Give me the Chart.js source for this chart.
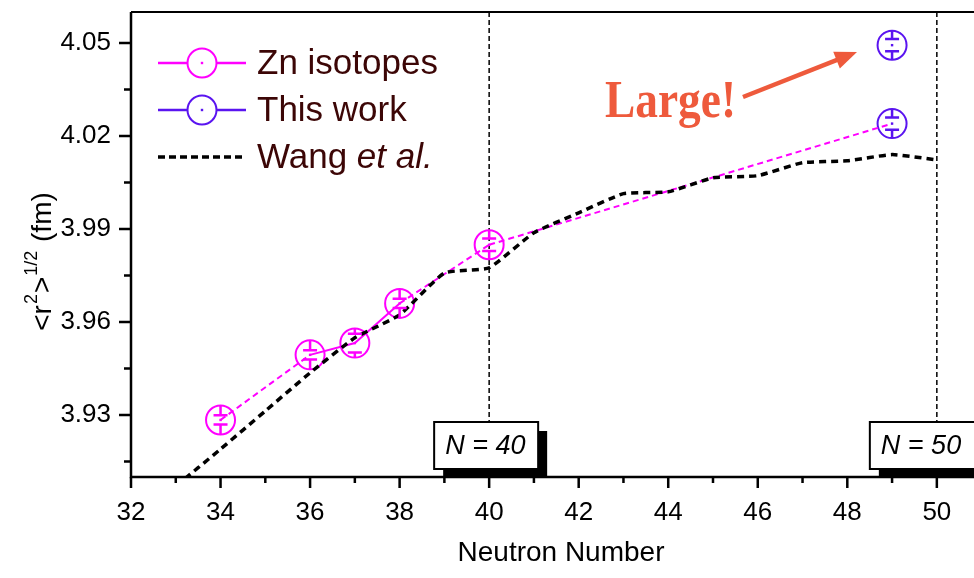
<!DOCTYPE html>
<html lang="en">
<head>
<meta charset="UTF-8">
<title>Zn charge radii</title>
<style>
  body { margin: 0; background: #fff; }
  .zone { width: 974px; height: 578px; position: relative; }
</style>
</head>
<body>
<div class="zone"><canvas id="myChart"></canvas></div>

<script src="https://cdn.jsdelivr.net/npm/chart.js"></script>
<script>
// data
const znNeutrons = [34, 36, 37, 38, 40];
const znRadius = [3.9284, 3.9494, 3.9532, 3.9660, 3.9849];
const znError = [0.0015, 0.0015, 0.003, 0.0015, 0.002];

const workNeutrons = [49, 49];
const workRadius = [4.0493, 4.0240];
const workError = [0.002, 0.002];

const wangNeutrons = [33, 34, 35, 36, 37, 38, 39, 40, 41, 42, 43, 44, 45, 46, 47, 48, 49, 50];
const wangRadius = [3.907, 3.919, 3.9313, 3.9436, 3.9549, 3.9623, 3.9758, 3.9775, 3.9888, 3.9952,
                    4.0014, 4.0020, 4.0065, 4.0072, 4.0114, 4.0120, 4.0140, 4.0123];

const xTicks = [32, 34, 36, 38, 40, 42, 44, 46, 48, 50];
const xMinorTicks = [33, 35, 37, 39, 41, 43, 45, 47, 49];
const yTicks = [3.93, 3.96, 3.99, 4.02, 4.05];
const yMinorTicks = [3.915, 3.945, 3.975, 4.005, 4.035];
const magicNumbers = [40, 50];

const MAGENTA = '#ff00ff';
const VIOLET = '#5a14f0';
const TEXT = '#3c0606';
const FONT = '"Liberation Sans", Arial, sans-serif';

const pts = (xs, ys) => xs.map((v, i) => ({ x: v, y: ys[i] }));

function drawMarker(ctx, x, y, r, color) {
    ctx.save();
    ctx.strokeStyle = color;
    ctx.lineWidth = 2;
    ctx.setLineDash([]);
    ctx.beginPath();
    ctx.arc(x, y, r, 0, Math.PI * 2);
    ctx.stroke();
    ctx.fillStyle = color;
    ctx.fillRect(x - 1.2, y - 1.2, 2.4, 2.4);
    ctx.restore();
}

const decorations = {
    id: 'decorations',
    beforeDatasetsDraw(chart) {
        const { ctx, chartArea: a, scales: { x } } = chart;
        ctx.save();
        ctx.strokeStyle = '#000';
        ctx.lineWidth = 1.5;
        ctx.setLineDash([5, 3]);
        magicNumbers.forEach(n => {
            const px = x.getPixelForValue(n);
            ctx.beginPath();
            ctx.moveTo(px, a.top);
            ctx.lineTo(px, 422);
            ctx.stroke();
        });
        ctx.restore();
    },
    afterDatasetsDraw(chart) {
        const { ctx, scales: { y } } = chart;
        chart.data.datasets.forEach((ds, i) => {
            if (!ds.errors) return;
            const meta = chart.getDatasetMeta(i);
            meta.data.forEach((pt, j) => {
                const r = ds.pointRadius;
                const up = y.getPixelForValue(ds.data[j].y + ds.errors[j]);
                const lo = y.getPixelForValue(ds.data[j].y - ds.errors[j]);
                ctx.save();
                ctx.strokeStyle = ds.borderColor;
                ctx.lineWidth = 2.5;
                ctx.beginPath();
                ctx.moveTo(pt.x, pt.y - r); ctx.lineTo(pt.x, up);
                ctx.moveTo(pt.x - 7, up); ctx.lineTo(pt.x + 7, up);
                ctx.moveTo(pt.x - 7, lo); ctx.lineTo(pt.x + 7, lo);
                ctx.moveTo(pt.x, lo); ctx.lineTo(pt.x, pt.y + r);
                ctx.stroke();
                ctx.fillStyle = ds.borderColor;
                ctx.fillRect(pt.x - 1.2, pt.y - 1.2, 2.4, 2.4);
                ctx.restore();
            });
        });
    },
    afterDraw(chart) {
        const { ctx, chartArea: a, scales: { x, y } } = chart;
        ctx.save();

        // axes and frame
        ctx.strokeStyle = '#000';
        ctx.lineWidth = 2.5;
        ctx.beginPath();
        ctx.moveTo(a.left, a.top);
        ctx.lineTo(a.left, a.bottom);
        ctx.lineTo(chart.width, a.bottom);
        ctx.stroke();
        ctx.lineWidth = 2;
        ctx.beginPath();
        ctx.moveTo(a.left, a.top);
        ctx.lineTo(chart.width, a.top);
        ctx.stroke();

        // ticks
        ctx.lineWidth = 2.5;
        ctx.beginPath();
        xTicks.forEach(v => { const p = x.getPixelForValue(v); ctx.moveTo(p, a.bottom); ctx.lineTo(p, a.bottom + 11); });
        xMinorTicks.forEach(v => { const p = x.getPixelForValue(v); ctx.moveTo(p, a.bottom); ctx.lineTo(p, a.bottom + 6); });
        yTicks.forEach(v => { const p = y.getPixelForValue(v); ctx.moveTo(a.left, p); ctx.lineTo(a.left - 12, p); });
        yMinorTicks.forEach(v => { const p = y.getPixelForValue(v); ctx.moveTo(a.left, p); ctx.lineTo(a.left - 7, p); });
        ctx.stroke();

        // axis titles
        ctx.fillStyle = '#000';
        ctx.textBaseline = 'middle';
        ctx.textAlign = 'center';
        ctx.font = '28px ' + FONT;
        ctx.fillText('Neutron Number', 561, 553);

        const parts = [
            { t: '<r', f: '28px', dy: 0 },
            { t: '2', f: '18px', dy: -11 },
            { t: '>', f: '28px', dy: 0 },
            { t: '1/2', f: '18px', dy: -11 },
            { t: ' (fm)', f: '28px', dy: 0 }
        ];
        ctx.save();
        ctx.translate(43, 261);
        ctx.rotate(-Math.PI / 2);
        ctx.textAlign = 'left';
        let total = 0;
        parts.forEach(p => { ctx.font = p.f + ' ' + FONT; p.w = ctx.measureText(p.t).width; total += p.w + 1; });
        let cx = -total / 2;
        parts.forEach(p => { ctx.font = p.f + ' ' + FONT; ctx.fillText(p.t, cx, p.dy); cx += p.w + 1; });
        ctx.restore();

        // legend
        const rows = [
            { y: 63, color: MAGENTA, marker: true, label: [['Zn isotopes', 'normal']] },
            { y: 110, color: VIOLET, marker: true, label: [['This work', 'normal']] },
            { y: 157, color: '#000', marker: false, label: [['Wang ', 'normal'], ['et al.', 'italic']] }
        ];
        rows.forEach(r => {
            ctx.save();
            ctx.strokeStyle = r.color;
            if (r.marker) {
                ctx.lineWidth = 2.5;
                ctx.beginPath();
                ctx.moveTo(158, r.y); ctx.lineTo(188, r.y);
                ctx.moveTo(216, r.y); ctx.lineTo(246, r.y);
                ctx.stroke();
                drawMarker(ctx, 202, r.y, 14.5, r.color);
            } else {
                ctx.lineWidth = 3.5;
                ctx.setLineDash([7, 4]);
                ctx.beginPath();
                ctx.moveTo(158, r.y); ctx.lineTo(246, r.y);
                ctx.stroke();
            }
            ctx.restore();
            let tx = 257;
            ctx.fillStyle = TEXT;
            ctx.textAlign = 'left';
            ctx.textBaseline = 'middle';
            r.label.forEach(([t, style]) => {
                ctx.font = style + ' 35px ' + FONT;
                ctx.fillText(t, tx, r.y + 1);
                tx += ctx.measureText(t).width;
            });
        });

        // N = 40 / N = 50 boxes
        const boxes = [
            { left: x.getPixelForValue(40) - 55, w: 104, text: 'N = 40' },
            { left: x.getPixelForValue(50) - 67, w: 112, text: 'N = 50' }
        ];
        boxes.forEach(b => {
            const top = 422, h = 47;
            ctx.fillStyle = '#000';
            ctx.fillRect(b.left + 9, top + 9, b.w, a.bottom - top - 9);
            ctx.fillStyle = '#fff';
            ctx.fillRect(b.left, top, b.w, h);
            ctx.strokeStyle = '#000';
            ctx.lineWidth = 2;
            ctx.strokeRect(b.left, top, b.w, h);
            ctx.fillStyle = '#000';
            ctx.font = 'italic 27px ' + FONT;
            ctx.textAlign = 'left';
            ctx.textBaseline = 'middle';
            ctx.fillText(b.text, b.left + 11, top + h / 2 + 1);
        });

        // "Large!" annotation
        ctx.fillStyle = '#ee5a3c';
        ctx.strokeStyle = '#ee5a3c';
        ctx.font = 'bold 52px "Liberation Serif", "Times New Roman", serif';
        ctx.textAlign = 'left';
        ctx.textBaseline = 'alphabetic';
        ctx.fillText('Large!', 605, 117, 131);
        const x0 = 743, y0 = 97, x1 = 857, y1 = 52;
        const ang = Math.atan2(y1 - y0, x1 - x0);
        ctx.lineWidth = 4.5;
        ctx.beginPath();
        ctx.moveTo(x0, y0);
        ctx.lineTo(x1 - 18 * Math.cos(ang), y1 - 18 * Math.sin(ang));
        ctx.stroke();
        ctx.beginPath();
        ctx.moveTo(x1, y1);
        ctx.lineTo(x1 - 22 * Math.cos(ang) + 9 * Math.sin(ang), y1 - 22 * Math.sin(ang) - 9 * Math.cos(ang));
        ctx.lineTo(x1 - 22 * Math.cos(ang) - 9 * Math.sin(ang), y1 - 22 * Math.sin(ang) + 9 * Math.cos(ang));
        ctx.closePath();
        ctx.fill();

        ctx.restore();
    }
};

const znPoints = pts(znNeutrons, znRadius);
const workPoints = pts(workNeutrons, workRadius);

new Chart(document.getElementById('myChart'), {
    type: 'scatter',
    data: {
        datasets: [
            {
                label: 'Wang et al.',
                data: pts(wangNeutrons, wangRadius),
                showLine: true,
                borderColor: '#000',
                borderWidth: 3.5,
                borderDash: [7, 5],
                pointRadius: 0,
                tension: 0.15
            },
            {
                label: 'link',
                data: [znPoints[znPoints.length - 1], workPoints[workPoints.length - 1]],
                showLine: true,
                borderColor: MAGENTA,
                borderWidth: 2,
                borderDash: [6, 4],
                pointRadius: 0
            },
            {
                label: 'Zn isotopes',
                data: znPoints,
                errors: znError,
                showLine: true,
                borderColor: MAGENTA,
                backgroundColor: 'rgba(0,0,0,0)',
                borderWidth: 2,
                pointRadius: 14.5,
                pointBorderWidth: 2,
                pointBorderColor: MAGENTA,
                pointBackgroundColor: 'rgba(0,0,0,0)',
                segment: {
                    borderDash: c => (c.p0.parsed.x === 36 || c.p0.parsed.x === 37) ? [] : [6, 4]
                }
            },
            {
                label: 'This work',
                data: workPoints,
                errors: workError,
                showLine: false,
                borderColor: VIOLET,
                pointRadius: 14.5,
                pointBorderWidth: 2,
                pointBorderColor: VIOLET,
                pointBackgroundColor: 'rgba(0,0,0,0)'
            }
        ]
    },
    options: {
        responsive: true,
        maintainAspectRatio: false,
        animation: false,
        layout: { autoPadding: false, padding: { top: 12, right: 0, bottom: 0, left: 0 } },
        plugins: { legend: { display: false }, tooltip: { enabled: false } },
        scales: {
            x: {
                type: 'linear',
                min: 32,
                max: 50.83,
                grid: { display: false, drawTicks: false },
                border: { display: false },
                afterBuildTicks: s => { s.ticks = xTicks.map(v => ({ value: v })); },
                afterFit: s => { s.height = 101; s.paddingLeft = 0; s.paddingRight = 0; },
                ticks: {
                    color: '#000',
                    padding: 20,
                    maxRotation: 0,
                    autoSkip: false,
                    font: { family: FONT, size: 26 }
                }
            },
            y: {
                type: 'linear',
                min: 3.91,
                max: 4.06,
                grid: { display: false, drawTicks: false },
                border: { display: false },
                afterBuildTicks: s => { s.ticks = yTicks.map(v => ({ value: v })); },
                afterFit: s => { s.width = 131; s.paddingTop = 0; s.paddingBottom = 0; },
                ticks: {
                    color: '#000',
                    padding: 20,
                    autoSkip: false,
                    font: { family: FONT, size: 26 },
                    callback: v => v.toFixed(2)
                }
            }
        }
    },
    plugins: [decorations]
});
</script>
</body>
</html>
